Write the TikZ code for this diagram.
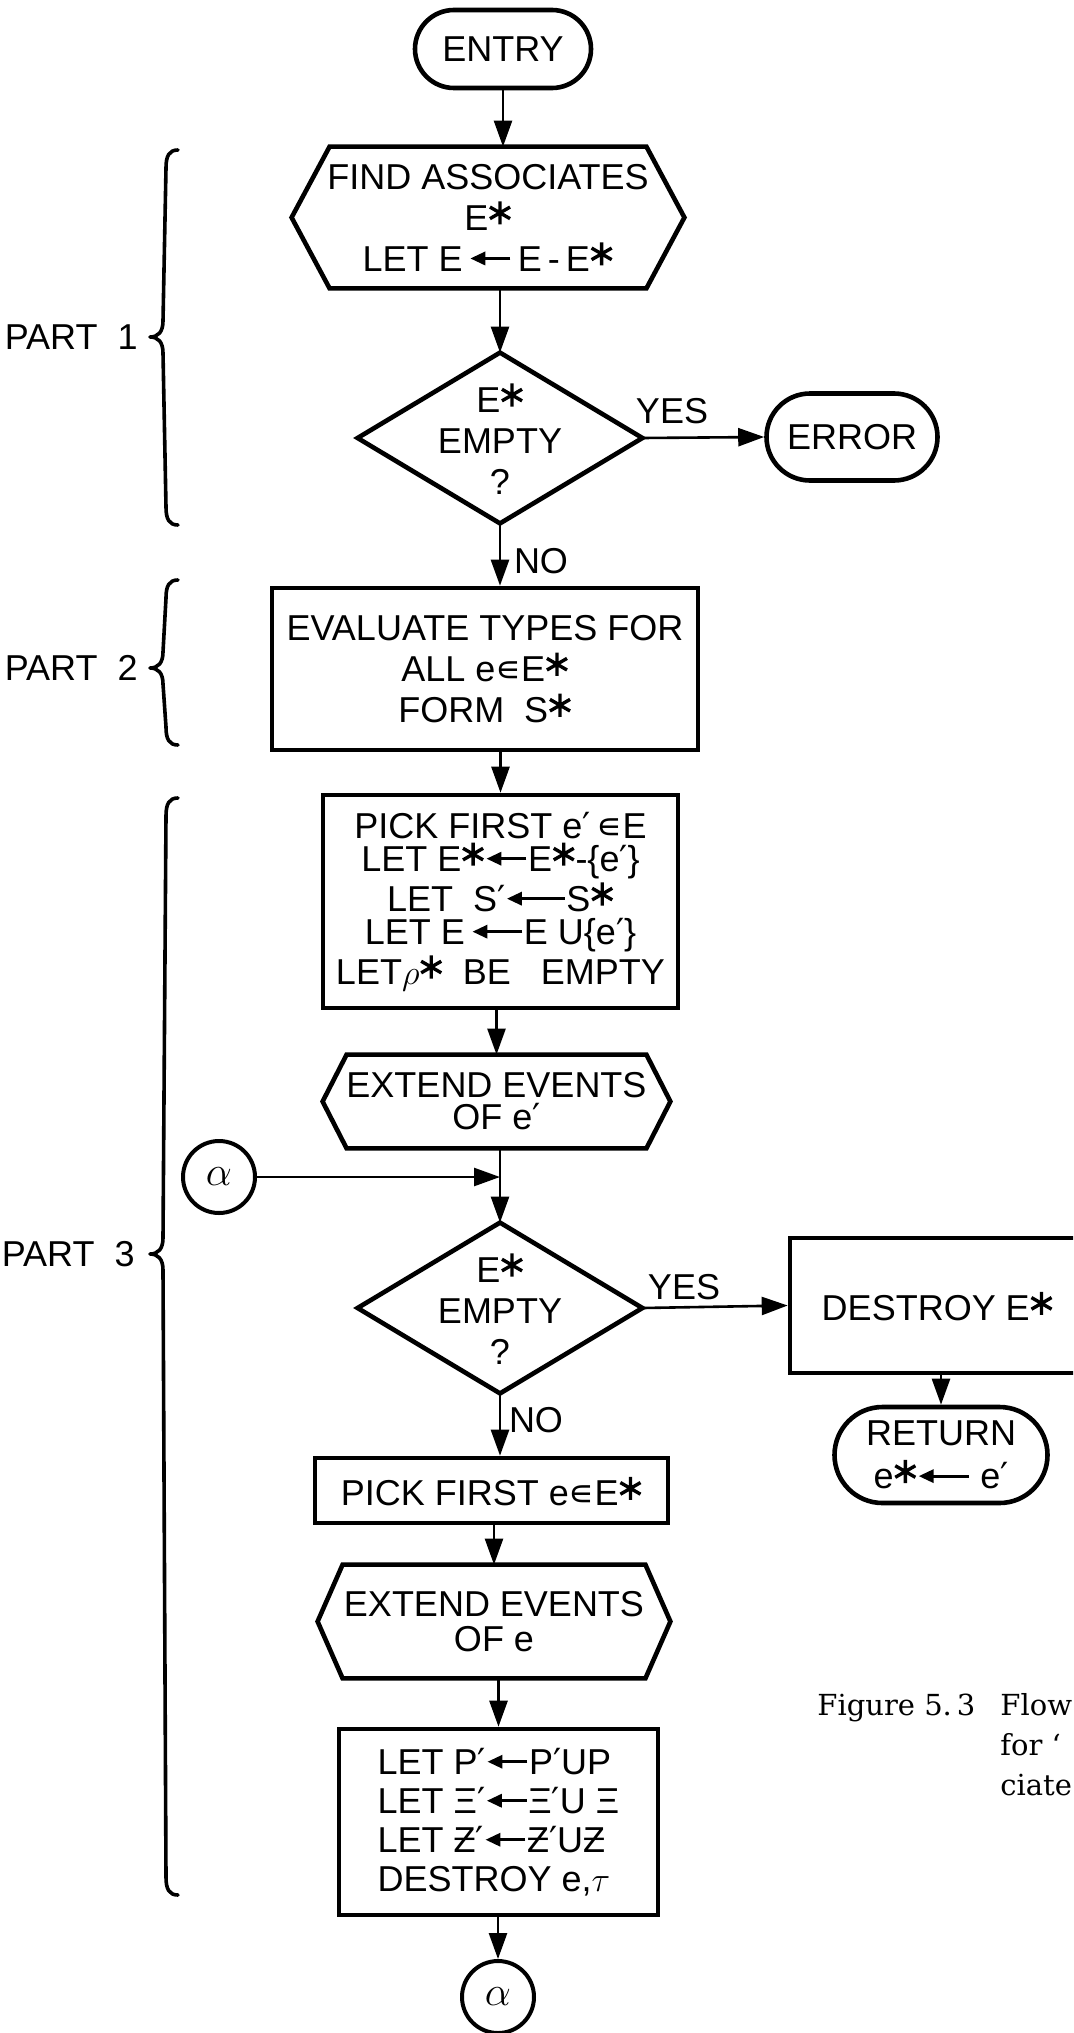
\documentclass[tikz,border=0pt]{standalone}
\usepackage{fontspec}
\usepackage{graphicx}
\usetikzlibrary{shapes.misc,arrows.meta,calc}
\newfontfamily\lsans{Liberation Sans}
\newfontfamily\symf{DejaVu Sans}
\newfontfamily\capf{DejaVu Serif}
\newsavebox\starbox
\newsavebox\arrS
\newsavebox\arrM
\newsavebox\arrL
\newcommand\st{\usebox\starbox}
\newcommand\pr{{\symf ′}}
\newcommand\el{{\symf ∊}}
\newcommand\fs[1]{\lsans\fontsize{18pt}{#1}\selectfont}
\newcommand\hexagon[2]{\draw[outline] (#1.west) -- ([xshift=#2]#1.north west) -- ([xshift=-#2]#1.north east) -- (#1.east) -- ([xshift=-#2]#1.south east) -- ([xshift=#2]#1.south west) -- cycle;}
\newcommand\dmd[1]{\draw[outline] (#1.north) -- (#1.east) -- (#1.south) -- (#1.west) -- cycle;}
\newcommand\partbrace[3]{\draw[brace] (178,#1) .. controls (169,#1) and (166,#1+6) .. (166,#1+18) -- (163,#2-16) .. controls (163,#2-5) and (158,#2) .. (150,#2) .. controls (158,#2) and (163,#2+5) .. (163,#2+16) -- (166,#3-18) .. controls (166,#3-6) and (169,#3) .. (178,#3);}
\newcommand\textarrow[1]{\begin{pgfpicture}\pgfsetbaseline{-6.3pt}\pgfsetlinewidth{1.6pt}\pgfsetarrowsend{Triangle[length=7.5pt,width=6.5pt]}\pgfpathmoveto{\pgfpoint{#1}{0pt}}\pgfpathlineto{\pgfpoint{0pt}{0pt}}\pgfusepath{stroke}\end{pgfpicture}}
\begin{document}
\sbox\starbox{\begin{pgfpicture}\pgfsetbaseline{-8.6pt}\pgfsetlinewidth{1.7pt}%
\pgfpathmoveto{\pgfpointpolar{90}{5.8pt}}\pgfpathlineto{\pgfpointpolar{270}{5.8pt}}%
\pgfpathmoveto{\pgfpointpolar{30}{5.8pt}}\pgfpathlineto{\pgfpointpolar{210}{5.8pt}}%
\pgfpathmoveto{\pgfpointpolar{150}{5.8pt}}\pgfpathlineto{\pgfpointpolar{330}{5.8pt}}%
\pgfusepath{stroke}\end{pgfpicture}}%
\sbox\arrS{\textarrow{20pt}}%
\sbox\arrM{\textarrow{25pt}}%
\sbox\arrL{\textarrow{29pt}}%
\begin{tikzpicture}[x=0.5pt,y=-0.5pt,
  txt/.style={font=\fs{20.5pt}, align=center, inner sep=1pt},
  terminal/.style={txt, draw, line width=2.3pt, rounded rectangle},
  procbox/.style={txt, draw, line width=2.3pt, rectangle},
  frame/.style={txt, rectangle},
  outline/.style={line width=2.3pt, line join=miter},
  conn/.style={line width=1.3pt, -{Triangle[length=13pt,width=9pt]}},
  jump/.style={draw, circle, line width=2pt, minimum size=36pt, inner sep=0pt, font=\fontsize{22pt}{22pt}\selectfont},
  lbl/.style={font=\fs{20pt}, inner sep=0pt},
  brace/.style={line width=1.8pt, line cap=round, line join=round},
  capt/.style={font=\capf\fontsize{14.5pt}{18pt}\selectfont, inner sep=0pt, anchor=base west}]
\useasboundingbox (0,0) rectangle (1073,2033);
\fill[white] (0,0) rectangle (1073,2033);
\clip (0,0) rectangle (1073,2033);

% nodes
\node[terminal, minimum width=90pt, minimum height=39pt] (entry) at (503,49) {ENTRY};
\node[frame, minimum width=196pt, minimum height=70.5pt] (find) at (488,217.5) {FIND ASSOCIATES\\E\st\\LET E\,\usebox\arrS\,E\,-\,E\st};
\hexagon{find}{19pt}
\node[frame, minimum width=142pt, minimum height=85pt] (dia1) at (500,438) {E\st\\EMPTY\\?};
\dmd{dia1}
\node[terminal, minimum width=87.5pt, minimum height=43.5pt] (error) at (852,437) {ERROR};
\node[lbl] (yes1) at (672,411) {YES};
\node[procbox, minimum width=213pt, minimum height=81pt] (eval) at (485,669) {EVALUATE TYPES FOR\\ALL e\el E\st\\FORM \ S\st};
\node[lbl] (no1) at (541,561) {NO};
\node[procbox, font=\fs{16.5pt}, minimum width=177.5pt, minimum height=106.5pt] (pick1) at (500.5,901.5) {PICK FIRST e\pr\,\el E\\LET E\st\usebox\arrS E\st-\{e\pr\}\\LET \ S\pr\usebox\arrL S\st\\LET E\,\usebox\arrM E U\{e\pr\}\\LET$\rho$\st\ \ BE \ \ EMPTY};
\node[frame, font=\fs{16pt}, minimum width=173.5pt, minimum height=46.5pt] (ext1) at (496.5,1101.5) {EXTEND EVENTS\\OF e\pr};
\hexagon{ext1}{12pt}
\node[jump] (alpha1) at (219,1177) {$\alpha$};
\node[frame, minimum width=142pt, minimum height=85pt] (dia2) at (500,1308) {E\st\\EMPTY\\?};
\dmd{dia2}
\coordinate (junc) at (dia2.north |- alpha1.east);
\node[lbl] (yes2) at (684,1287) {YES};
\node[procbox, minimum width=147.5pt, minimum height=67.5pt] (destroy) at (937.5,1305.5) {DESTROY E\st};
\node[terminal, font=\fs{21.5pt}, minimum width=108.5pt, minimum height=48pt] (ret) at (941,1455) {RETURN\\e\st\usebox\arrM\ e\pr};
\node[lbl] (no2) at (536,1420) {NO};
\node[procbox, minimum width=176.5pt, minimum height=32.5pt] (pick2) at (491.5,1490.5) {PICK FIRST e\el E\st};
\node[frame, font=\fs{17.5pt}, minimum width=176pt, minimum height=56.5pt] (ext2) at (494,1621.5) {EXTEND EVENTS\\OF e};
\hexagon{ext2}{12.5pt}
\node[procbox, align=left, font=\fs{19.5pt}, minimum width=159.5pt, minimum height=93pt] (fin) at (498.5,1822) {LET P\pr\usebox\arrS P\pr UP\\LET Ξ\pr\usebox\arrS Ξ\pr U Ξ\\LET Ƶ\pr\usebox\arrS Ƶ\pr UƵ\\DESTROY e,$\tau$};
\node[jump] (alpha2) at (498,1997) {$\alpha$};

% connectors
\draw[conn] (entry.south) -- (entry.south |- find.north);
\draw[conn] (dia1.north |- find.south) -- (dia1.north);
\draw[conn] (dia1.east) -- (error.west);
\draw[conn] (dia1.south) -- (dia1.south |- eval.north);
\draw[conn] (pick1.north |- eval.south) -- (pick1.north);
\draw[conn] (ext1.north |- pick1.south) -- (ext1.north);
\draw[conn] (dia2.north |- ext1.south) -- (dia2.north);
\draw[conn] (alpha1.east) -- (junc);
\draw[conn] (dia2.east) -- (destroy.west);
\draw[conn] (ret.north |- destroy.south) -- (ret.north);
\draw[conn] (dia2.south) -- (dia2.south |- pick2.north);
\draw[conn] (ext2.north |- pick2.south) -- (ext2.north);
\draw[conn] (fin.north |- ext2.south) -- (fin.north);
\draw[conn] (alpha2.north |- fin.south) -- (alpha2.north);

% braces and part labels
\partbrace{150}{337}{525}
\partbrace{580}{668}{745}
\partbrace{798}{1254}{1895}
\node[lbl, anchor=east] (part1) at (138,337) {PART \ 1};
\node[lbl, anchor=east] (part2) at (138,668) {PART \ 2};
\node[lbl, anchor=east] (part3) at (135,1254) {PART \ 3};

% caption
\node[capt] (cap1) at (817,1715) {Figure 5.\,3};
\node[capt] (cap2) at (1000,1715) {Flow};
\node[capt] (cap3) at (1000,1755) {for ‘};
\node[capt] (cap4) at (1000,1795) {ciate};
\end{tikzpicture}
\end{document}
